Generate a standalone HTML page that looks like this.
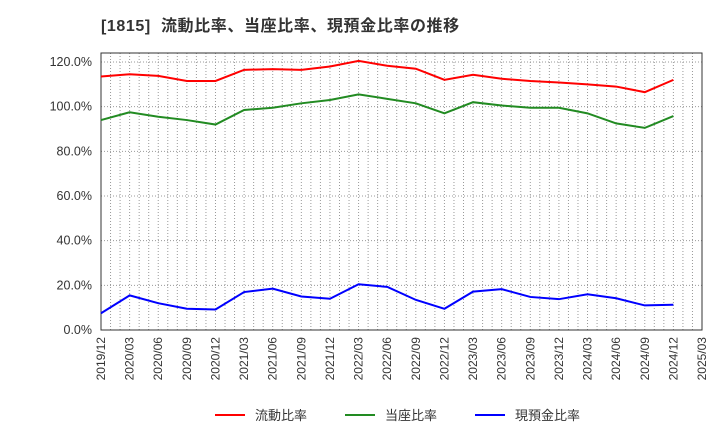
<!DOCTYPE html>
<html><head><meta charset="utf-8"><style>
body{margin:0;background:#fff;font-family:"Liberation Sans","Noto Sans CJK JP",sans-serif}
</style></head><body>
<svg width="720" height="440" xmlns="http://www.w3.org/2000/svg">
<text x="101" y="31" font-size="16" font-weight="bold" fill="#333" letter-spacing="0.6" xml:space="preserve" style="white-space:pre" font-family="Liberation Sans, Noto Sans CJK JP, sans-serif">[1815]  流動比率、当座比率、現預金比率の推移</text>
<g id="grid"></g>
<g id="axes"></g>
<g id="series"></g>
<g id="legend"></g>
</svg>
<script>
const xLabels=["2019/12","2020/03","2020/06","2020/09","2020/12","2021/03","2021/06","2021/09","2021/12","2022/03","2022/06","2022/09","2022/12","2023/03","2023/06","2023/09","2023/12","2024/03","2024/06","2024/09","2024/12","2025/03"];
const yTicks=[0,20,40,60,80,100,120];
const current=[113.5,114.5,113.8,111.5,111.5,116.5,116.8,116.5,118,120.5,118.3,117,112,114.3,112.5,111.5,110.8,110,109,106.5,112];
const quick=[94,97.5,95.5,94,92,98.5,99.5,101.5,103,105.5,103.5,101.5,97,102,100.5,99.5,99.5,97,92.5,90.5,95.8];
const cash=[7.5,15.5,12,9.5,9.2,17,18.5,15,14,20.5,19.3,13.5,9.5,17.2,18.3,14.8,13.8,16,14.2,11,11.3];
const NS="http://www.w3.org/2000/svg";
const L=101,R=702,T=53,B=330;
const xs=i=>L+i*(R-L)/(xLabels.length-1);
const ys=v=>B-v*(B-62)/120;
function mk(tag,attrs,parent){const e=document.createElementNS(NS,tag);for(const k in attrs)e.setAttribute(k,attrs[k]);document.getElementById(parent).appendChild(e);return e;}
const months=(xLabels.length-1)*3;
for(let m=1;m<months;m++){const x=L+m*(R-L)/months;
 const g=mk('line',{x1:x,x2:x,y1:T,y2:B,stroke:'#999','stroke-dasharray':'1,2','stroke-width':1},'grid');
 }
yTicks.forEach(v=>{const y=ys(v);
 if(v>0){const g=mk('line',{x1:L,x2:R,y1:y,y2:y,stroke:'#999','stroke-dasharray':'1,2'},'grid');
 }
 const t=mk('text',{x:92,y:y+4,'text-anchor':'end','font-size':12.5,fill:'#333'},'axes');t.textContent=v.toFixed(1)+'%';
 });
const f=mk('rect',{x:L,y:T,width:R-L,height:B-T,fill:'none',stroke:'#333'},'axes');

xLabels.forEach((s,i)=>{const x=xs(i);
 const t=mk('text',{x:0,y:0,'text-anchor':'end','font-size':12,fill:'#333',transform:`translate(${x+4},337) rotate(-90)`},'axes');t.textContent=s;
 });
const ser=[[current,'#f00','current-ratio-line','流動比率'],[quick,'#228b22','quick-ratio-line','当座比率'],[cash,'#00f','cash-ratio-line','現預金比率']];
ser.forEach(([d,c,n])=>{const p=mk('polyline',{points:d.map((v,i)=>xs(i)+','+ys(v)).join(' '),fill:'none',stroke:c,'stroke-width':2},'series');
 });
const lx=[215,345,475];
ser.forEach(([d,c,n,lab],k)=>{const l=mk('line',{x1:lx[k],x2:lx[k]+30,y1:415,y2:415,stroke:c,'stroke-width':2},'legend');
 
 const t=mk('text',{x:lx[k]+40,y:420,'font-size':13,fill:'#333'},'legend');t.textContent=lab;
 });
</script>
</body></html>
